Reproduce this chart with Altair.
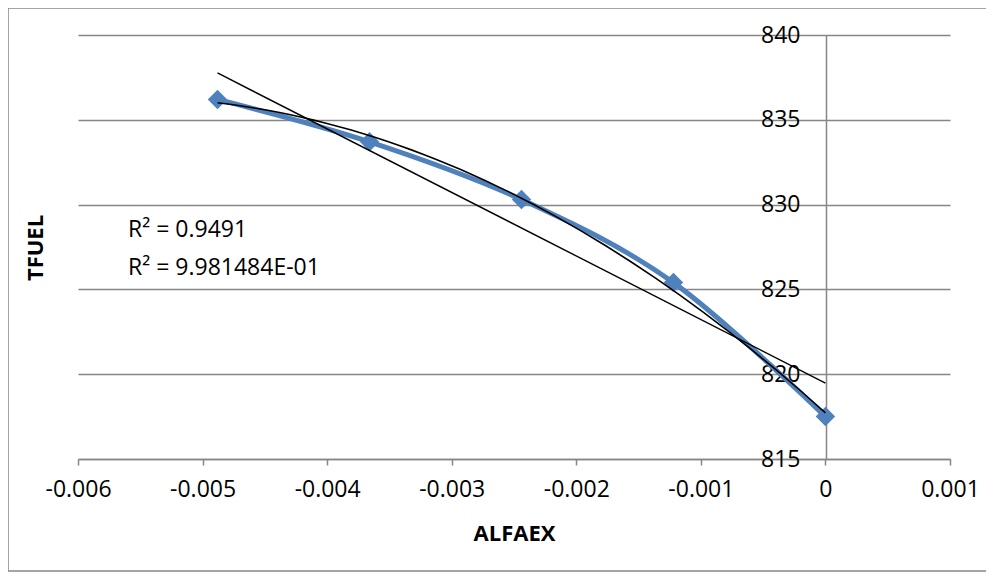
import altair as alt
import pandas as pd

# ---- data ----
alfaex = [-0.00488, -0.00366, -0.00244, -0.00122, 0.0]
tfuel = [836.2, 833.7, 830.3, 825.4, 817.5]
x_ticks = [-0.006, -0.005, -0.004, -0.003, -0.002, -0.001, 0.0, 0.001]
y_ticks = [815, 820, 825, 830, 835, 840]
r2_labels = ["R² = 0.9491", "R² = 9.981484E-01"]

df = pd.DataFrame({"ALFAEX": alfaex, "TFUEL": tfuel})

FONT = "Open Sans"
GREY = "#868686"
BLUE = "#4F81BD"
FS = 23

xscale = alt.Scale(domain=[-0.006, 0.001], nice=False, zero=False)
yscale = alt.Scale(domain=[815, 840], nice=False, zero=False)

xaxis = alt.Axis(
    values=x_ticks, labelExpr="'' + datum.value", grid=False,
    domainColor=GREY, domainWidth=1.5, tickColor=GREY, tickWidth=1.5, tickSize=6,
    labelFont=FONT, labelFontSize=FS, labelColor="black", labelPadding=13,
    labelFlush=False, labelOverlap=False,
    title="ALFAEX", titleFont=FONT, titleFontSize=22, titleFontWeight="bold",
    titleColor="black", titleY=74, titleBaseline="middle",
)
yaxis = alt.Axis(
    values=y_ticks, format="d", orient="left", offset=-748, title=None,
    grid=True, gridColor=GREY, gridWidth=1.5,
    domainColor=GREY, domainWidth=1.5, ticks=False, labelPadding=26,
    labelFont=FONT, labelFontSize=FS, labelColor="black",
    labelFlush=False, labelOverlap=False,
)

X = alt.X("ALFAEX:Q", scale=xscale, axis=xaxis)
Y = alt.Y("TFUEL:Q", scale=yscale, axis=yaxis)

base = alt.Chart(df)

line = base.mark_line(color=BLUE, strokeWidth=5, interpolate="cardinal", tension=0).encode(x=X, y=Y)
points = base.mark_point(shape="diamond", filled=True, size=380, color=BLUE, opacity=1).encode(x=X, y=Y)
lin = base.transform_regression("ALFAEX", "TFUEL").mark_line(
    color="black", strokeWidth=1.4).encode(x=X, y=Y)
poly = base.transform_regression("ALFAEX", "TFUEL", method="poly", order=2).mark_line(
    color="black", strokeWidth=1.6).encode(x=X, y=Y)

one = alt.Data(values=[{"k": 1}])
border = alt.Chart(one).mark_rect(fillOpacity=0, stroke=GREY, strokeWidth=1.5).encode(
    x=alt.value(-70), x2=alt.value(912), y=alt.value(-27), y2=alt.value(536))

texts = []
for lbl, ypix in zip(r2_labels, [195, 233]):
    texts.append(
        alt.Chart(alt.Data(values=[{"t": lbl}])).mark_text(
            font=FONT, fontSize=FS, align="left", baseline="middle", color="black"
        ).encode(text="t:N", x=alt.value(50), y=alt.value(ypix))
    )

ytitle = alt.Chart(alt.Data(values=[{"t": "TFUEL"}])).mark_text(
    font=FONT, fontSize=22, fontWeight="bold", angle=270, align="center",
    baseline="middle", color="black"
).encode(text="t:N", x=alt.value(-42), y=alt.value(213))

chart = alt.layer(border, line, points, lin, poly, *texts, ytitle).properties(
    width=872, height=424,
    padding={"left": 70, "top": 27, "right": 36, "bottom": 113},
    autosize=alt.AutoSizeParams(type="none"),
    background="white",
).configure_view(stroke=None)

chart.save("out.html", embed_options={"renderer": "svg", "actions": False})
